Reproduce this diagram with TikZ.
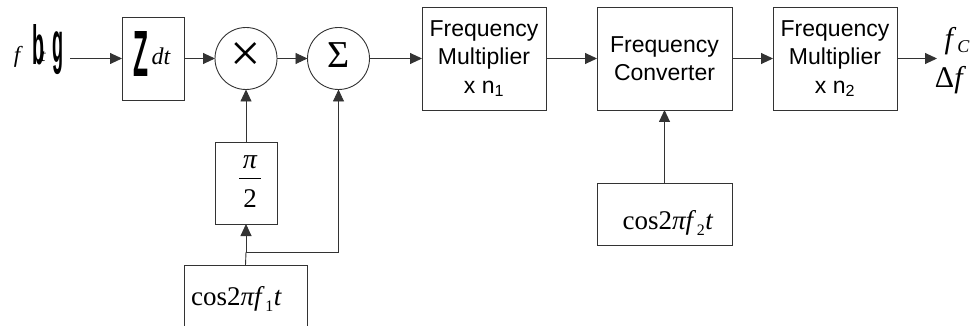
\documentclass[tikz,border=0pt]{standalone}
\usepackage{fontspec}
\setmainfont{Liberation Serif}
\newfontfamily\sansfam{Liberation Sans}
\usetikzlibrary{arrows.meta}

% squeezed bold sans glyph: width, height, glyph (starred: height incl. depth)
\newcommand{\tallglyph}[3]{\resizebox{#1}{#2}{\sansfam\bfseries #3}}
\newcommand{\tallglyphd}[3]{\resizebox*{#1}{#2}{\sansfam\bfseries #3}}
\newcommand{\cosexpr}[1]{cos2\textit{πf}\kern0.5pt\raisebox{-6pt}{\fontsize{16}{16}\selectfont #1}\kern0.5pt\textit{t}}

\begin{document}
\begin{tikzpicture}[x=1pt,y=-1pt,
  ink/.style={draw=black!80, line width=0.9pt},
  arr/.style={ink, -{Triangle[length=12pt,width=11pt]}},
  blk/.style={ink, rectangle, inner sep=0pt, outer sep=0pt},
  op/.style={ink, circle, inner sep=0pt, outer sep=0pt, minimum size=62pt},
  sans/.style={font=\sansfam\fontsize{23}{28.5}\selectfont, align=center},
  serif/.style={inner sep=0pt, anchor=base}]

\useasboundingbox (0,0) rectangle (972,326);
\clip (0,0) rectangle (972,326);

% input signal label
\node[serif, font=\itshape\fontsize{23}{23}\selectfont] (fin1) at (17,63) {f};
\node[serif] (fin2) at (38.5,65) {\tallglyph{12pt}{40pt}{b}};
\node[serif, font=\itshape\fontsize{18}{18}\selectfont] (fin3) at (43,62) {t};
\node[serif] (fin4) at (58,63) {\tallglyphd{11pt}{43pt}{g}};
\coordinate (fin) at (70,58.5);

% integrator
\node[blk, minimum width=62pt, minimum height=83pt] (int) at (153,58.5) {};
\node[serif] (intZ) at (140.5,77) {\tallglyph{15pt}{45pt}{Z}};
\node[serif, font=\itshape\fontsize{24}{24}\selectfont] (intdt) at (161,65) {dt};

% multiplier and summer
\node[op] (mul) at (246,58.5) {};
\node[font=\fontsize{54}{54}\selectfont, inner sep=0pt] (mulsym) at (245.5,57) {×};
\node[op] (sum) at (338.5,58.5) {};
\node[font=\fontsize{38}{38}\selectfont, inner sep=0pt] (sumsym) at (339,55) {Σ};

% pi/2 phase shifter
\node[blk, minimum width=62pt, minimum height=82pt] (shift) at (246,183) {};
\node[serif, font=\itshape\fontsize{28}{28}\selectfont] (shpi) at (250,168) {π};
\node[serif, font=\fontsize{27}{27}\selectfont] (sh2) at (250,207) {2};
\draw[line width=1pt] (239,178) -- (261,178);

% oscillator 1 (box runs past the lower edge)
\node[blk, minimum width=123pt, minimum height=90pt, anchor=north] (osc1) at (245.5,265) {};
\node[serif, font=\fontsize{27}{27}\selectfont] (osc1txt) at (236.5,305) {\cosexpr{1}};

% multiplier / converter chain
\node[blk, sans, minimum width=124pt, minimum height=103pt] (fm1) at (484,58.5)
  {Frequency\\Multiplier\\x n\textsubscript{1}};
\node[blk, sans, minimum width=135pt, minimum height=103pt] (conv) at (664.5,58.5)
  {Frequency\\Converter};
\node[blk, sans, minimum width=124pt, minimum height=103pt] (fm2) at (835,58.5)
  {Frequency\\Multiplier\\x n\textsubscript{2}};

% oscillator 2
\node[blk, minimum width=135pt, minimum height=62pt] (osc2) at (664.5,214) {};
\node[serif, font=\fontsize{27}{27}\selectfont] (osc2txt) at (668,229) {\cosexpr{2}};

% output labels
\coordinate (fout) at (937,58.5);
\node[serif, font=\fontsize{30}{30}\selectfont] (outfc) at (957,49)
  {\textit{f}\kern1pt\raisebox{-4pt}{\itshape\fontsize{18}{18}\selectfont C}};
\node[serif, font=\fontsize{30}{30}\selectfont] (outdf) at (950.5,88) {Δ\textit{f}};

% signal path
\draw[arr] (fin) -- (int.west);
\draw[arr] (int.east) -- (mul.west);
\draw[arr] (mul.east) -- (sum.west);
\draw[arr] (sum.east) -- (fm1.west);
\draw[arr] (fm1.east) -- (conv.west);
\draw[arr] (conv.east) -- (fm2.west);
\draw[arr] (fm2.east) -- (fout);

% carrier paths
\coordinate (split) at (246,252);
\draw[ink] (osc1.north) -- (split);
\draw[arr] (split) -- (shift.south);
\draw[arr] (shift.north) -- (mul.south);
\draw[arr] (split) -| (sum.south);
\draw[arr] (osc2.north) -- (conv.south);

\end{tikzpicture}
\end{document}
